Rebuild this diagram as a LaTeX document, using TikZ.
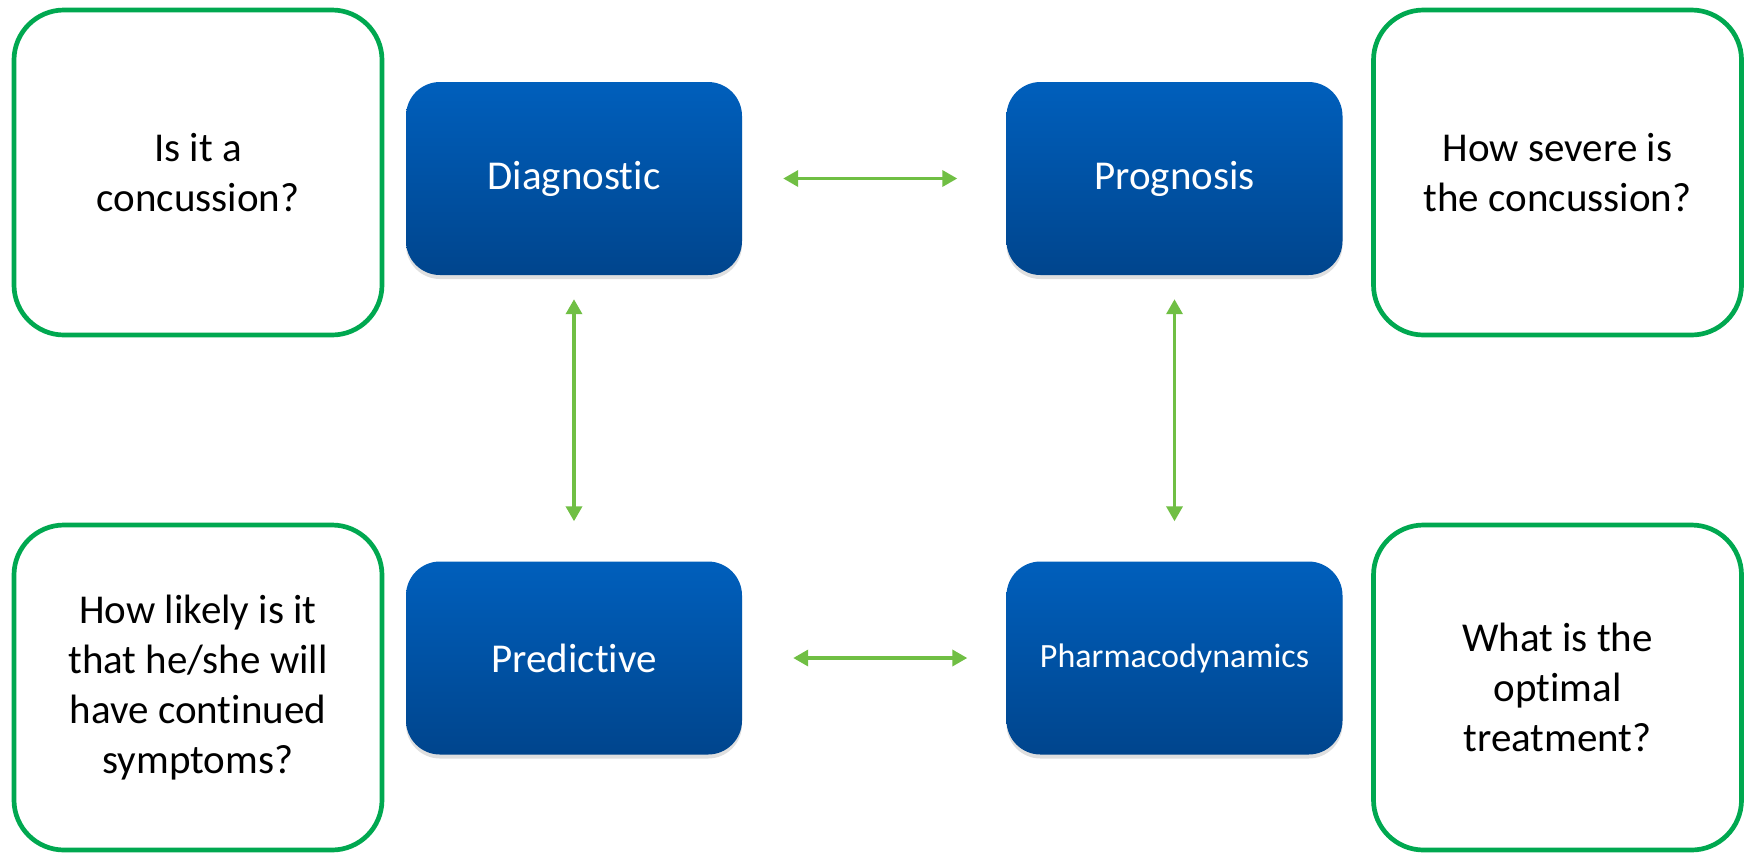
\documentclass[tikz,border=0pt]{standalone}
\usepackage{fontspec}
\setmainfont{Carlito}[RawFeature={-liga;-clig;-dlig;-calt}]
\usetikzlibrary{arrows.meta,shadows}
\definecolor{boxgreen}{HTML}{00A850}
\definecolor{arrgreen}{HTML}{70BF44}
\definecolor{bluetop}{HTML}{005FBC}
\definecolor{bluebot}{HTML}{00458D}
\begin{document}
\begin{tikzpicture}[x=1pt,y=-1pt,
  qbox/.style={draw=boxgreen, line width=4.7pt, rounded corners=50pt,
    minimum width=368pt, minimum height=325pt, align=center, inner sep=0pt,
    font=\fontsize{41}{50}\selectfont},
  bbox/.style={rounded corners=34pt, minimum width=336pt, minimum height=193pt,
    top color=bluetop, bottom color=bluebot, text=white, inner sep=0pt,
    font=\fontsize{41}{50}\selectfont,
    drop shadow={opacity=0.25, shadow xshift=0pt, shadow yshift=-4pt}},
  link/.style={arrgreen, line width=3.5pt,
    {Triangle[length=15pt,width=16pt]}-{Triangle[length=15pt,width=16pt]}}]
\useasboundingbox (0,0) rectangle (1747,855);

\node[qbox] (q1) at (198,172.5) {Is it a\\concussion?};
\node[qbox] (q2) at (1557.5,172.5) {How severe is\\the concussion?};
\node[qbox] (q3) at (198,687.5) {How likely is it\\that he/she will\\have continued\\symptoms?};
\node[qbox] (q4) at (1557.5,687.5) {What is the\\optimal\\treatment?};

\node[bbox] (diag) at (574,178.5) {Diagnostic};
\node[bbox] (prog) at (1174.5,178.5) {Prognosis};
\node[bbox] (pred) at (574,658) {Predictive};
\node[bbox, font=\fontsize{34}{40}\selectfont] (pharm) at (1174.5,658) {Pharmacodynamics};

\draw[link, shorten <=41pt, shorten >=49pt] (diag.east) -- (prog.west);
\draw[link, shorten <=51pt, shorten >=39pt] (pred.east) -- (pharm.west);
\draw[link, shorten <=24pt, shorten >=40pt] (diag.south) -- (pred.north);
\draw[link, shorten <=24pt, shorten >=40pt] (prog.south) -- (pharm.north);
\end{tikzpicture}
\end{document}
